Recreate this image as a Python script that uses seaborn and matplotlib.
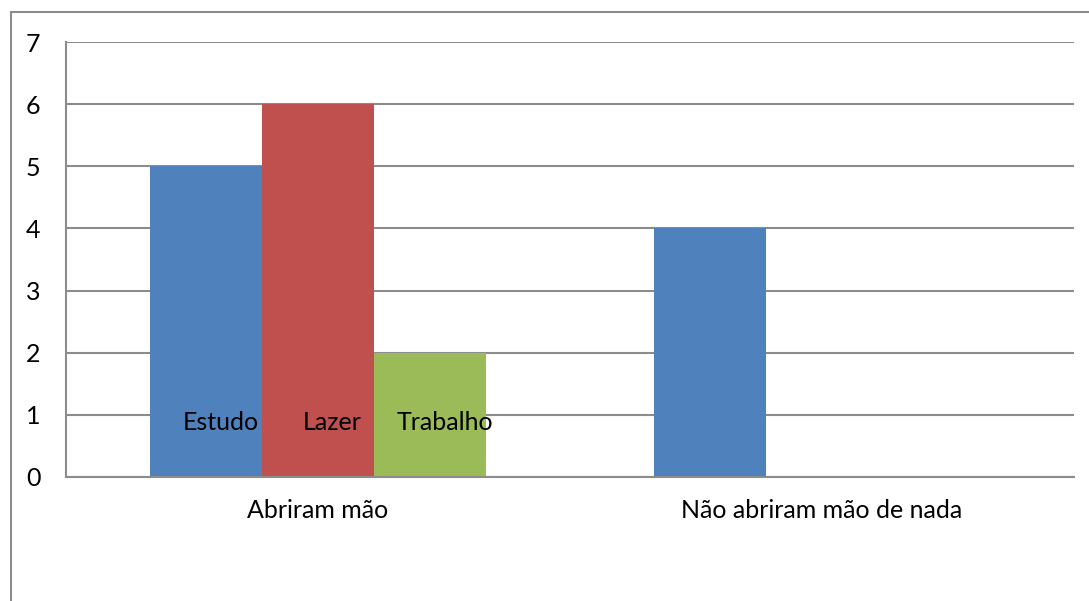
import matplotlib
matplotlib.use("Agg")
import matplotlib.pyplot as plt
import seaborn as sns
import pandas as pd
from matplotlib.lines import Line2D

categories = ["Abriram mão", "Não abriram mão de nada"]
series = ["Estudo", "Lazer", "Trabalho"]
estudo = [5, 4]
lazer = [6, 0]
trabalho = [2, 0]
yticks = [0, 1, 2, 3, 4, 5, 6, 7]
colors = ["#4F81BD", "#C0504D", "#9BBB59"]

rows = []
for s, vals in zip(series, [estudo, lazer, trabalho]):
    for c, v in zip(categories, vals):
        rows.append({"cat": c, "serie": s, "valor": v})
df = pd.DataFrame(rows)

sns.set_theme(style="white")
plt.rcParams["font.family"] = ["Lato", "DejaVu Sans"]
FS = 18

fig = plt.figure(figsize=(10.89, 6.01), dpi=100)
ax = fig.add_axes([66/1089, 124/601, (1074-66)/1089, (477-42)/601])

sns.barplot(data=df, x="cat", y="valor", hue="serie", order=categories,
            hue_order=series, palette=colors, width=0.667, saturation=1,
            dodge=True, legend=False, ax=ax, linewidth=0, errorbar=None)

ax.set_ylim(0, 7)
ax.set_xlim(-0.5, 1.5)
ax.set_yticks(yticks)
ax.yaxis.grid(True, color="#8c8c8c", linewidth=1.5)
ax.set_axisbelow(True)
ax.set_xlabel("")
ax.set_ylabel("")
for sp in ["top", "right"]:
    ax.spines[sp].set_visible(False)
for sp in ["left", "bottom"]:
    ax.spines[sp].set_color("#8c8c8c")
    ax.spines[sp].set_linewidth(1.5)
ax.tick_params(axis="y", length=0, pad=23.5, labelsize=FS, colors="black")
ax.tick_params(axis="x", length=0, pad=15.5, labelsize=FS, colors="black")
for lab in ax.get_yticklabels():
    lab.set_horizontalalignment("center")

# series name labels inside first group bars
bars = [p for p in ax.patches if p.get_height() > 0]
first_group = sorted([p for p in bars if p.get_x() < 0.5], key=lambda p: p.get_x())
for p, name in zip(first_group, series):
    cx = p.get_x() + p.get_width() * 0.63
    ax.text(cx, 0.88, name, ha="center", va="center", fontsize=FS, color="black")

# outer chart border
fig.add_artist(Line2D([11/1089, 11/1089], [0, 1 - 12/601], transform=fig.transFigure,
                      color="#8c8c8c", linewidth=1.5))
fig.add_artist(Line2D([11/1089, 1], [1 - 12/601, 1 - 12/601], transform=fig.transFigure,
                      color="#8c8c8c", linewidth=1.5))

fig.savefig("out.png", dpi=100)
